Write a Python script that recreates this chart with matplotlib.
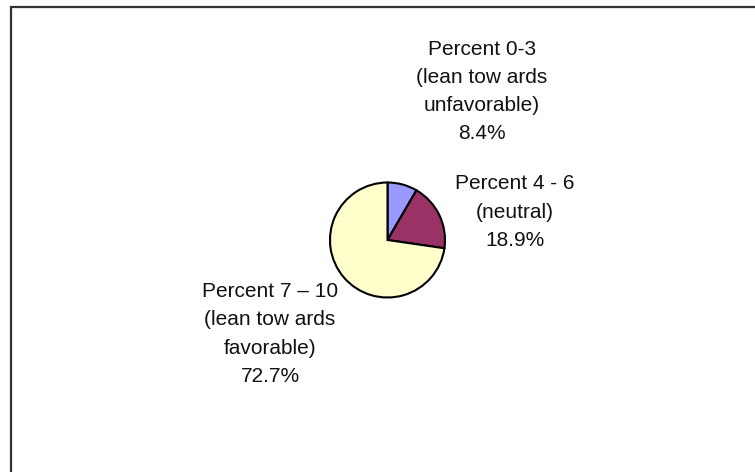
import matplotlib
matplotlib.use("Agg")
import matplotlib.pyplot as plt

plt.rcParams['font.family'] = ['Liberation Sans', 'DejaVu Sans']

groups = ["Percent 0-3\n(lean tow ards\nunfavorable)",
          "Percent 4 - 6\n(neutral)",
          "Percent 7 \u2013 10\n(lean tow ards\nfavorable)"]
shares = [8.4, 18.9, 72.7]
colors = ["#9999FF", "#993366", "#FFFFCC"]

W, H = 755, 472
fig = plt.figure(figsize=(W / 100, H / 100), dpi=100)
ax = fig.add_axes([0, 0, 1, 1])
ax.set_xlim(0, W)
ax.set_ylim(0, H)
ax.set_aspect('equal')
ax.axis('off')

# chart area border (only top/left visible)
ax.plot([10.5, 10.5, W + 10], [-10, H - 6.5, H - 6.5], color="#333333", lw=1.6,
        solid_capstyle='butt', solid_joinstyle='miter')

ax.pie(shares, colors=colors, startangle=90, counterclock=False,
       center=(387.5, H - 240), radius=57.5,
       wedgeprops=dict(edgecolor='black', linewidth=1.5))
ax.set_xlim(0, W)
ax.set_ylim(0, H)

label_pos = [(482, H - 91.5), (515, H - 212), (270, H - 334)]
for name, val, (x, y) in zip(groups, shares, label_pos):
    ax.text(x, y, f"{name}\n{val}%", ha='center', va='center', fontsize=15,
            linespacing=1.62, color='#111111')

fig.savefig("out.png", dpi=100)
